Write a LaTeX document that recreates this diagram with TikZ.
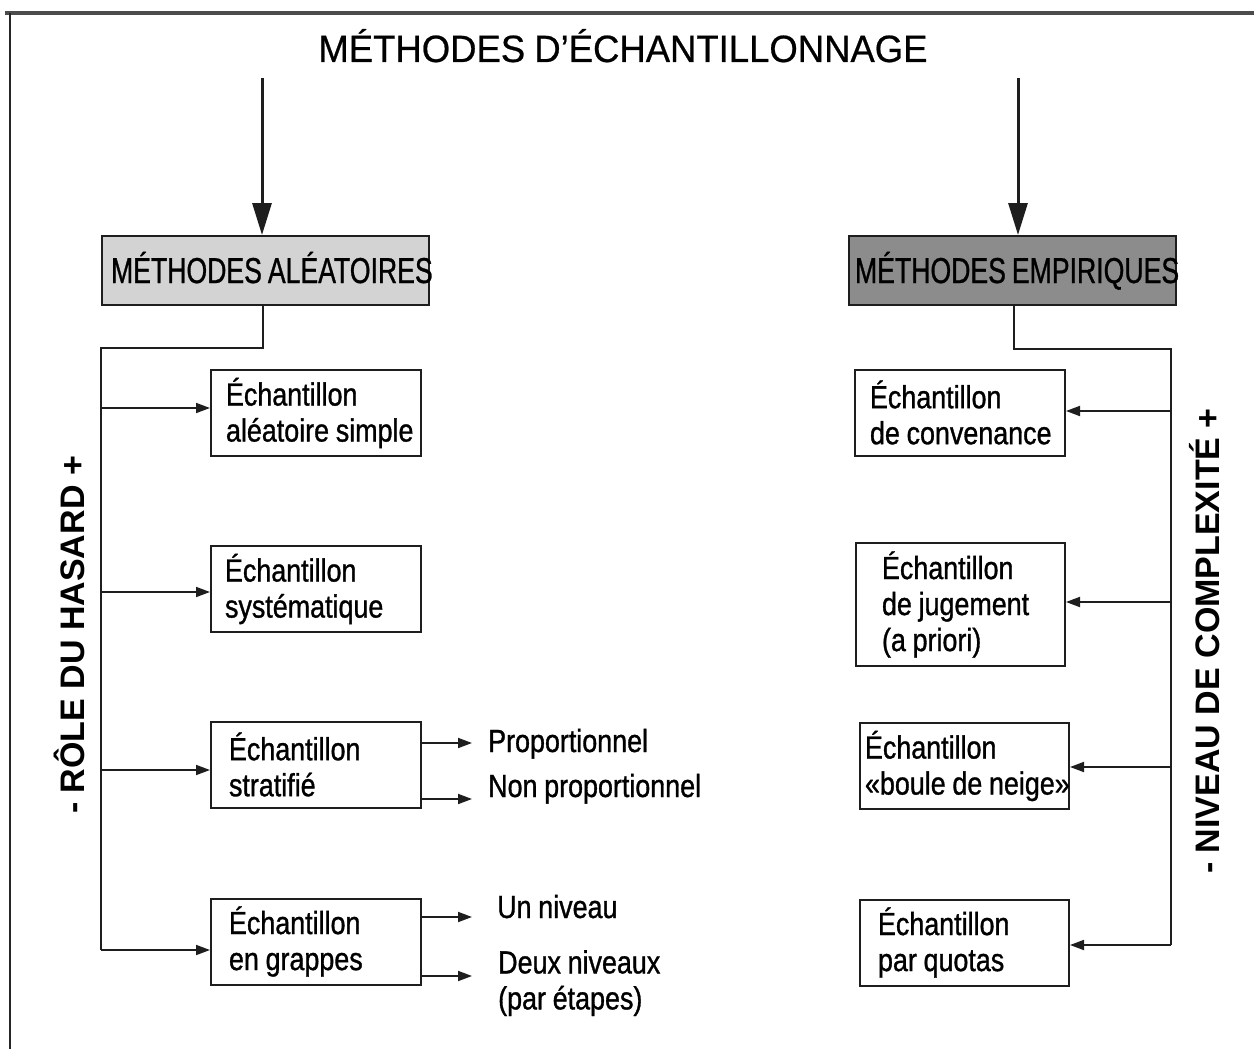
\documentclass[tikz,border=0pt]{standalone}
\usepackage{fontspec}
\setmainfont{Liberation Sans}
\newfontfamily\titlefont[FakeStretch=0.96,FakeBold=0.6,WordSpace=0.9]{Liberation Sans}
\newfontfamily\headfont[FakeStretch=0.74,FakeBold=0.8,WordSpace=0.8]{Liberation Sans}
\newfontfamily\boxfont[FakeStretch=0.84,FakeBold=1.0,WordSpace=0.9]{Liberation Sans}
\newfontfamily\sidefont{Liberation Sans}
\usetikzlibrary{arrows.meta}
\definecolor{lightfill}{HTML}{D3D3D3}
\definecolor{darkfill}{HTML}{8C8C8C}
\definecolor{ink}{HTML}{1E1E1E}
\begin{document}
\begin{tikzpicture}[x=1pt,y=-1pt,
  line/.style={line width=1.8pt, draw=ink},
  arr/.style={line, -{Triangle[length=14pt,width=10pt]}},
  bigarr/.style={line width=3pt, draw=ink, -{Triangle[length=32pt,width=19pt]}},
  head/.style={draw=ink, line width=2pt, minimum width=327pt, minimum height=69pt,
    inner ysep=0pt, text height=27pt, text depth=2pt,
    font=\headfont\fontsize{36}{40}\selectfont},
  sample/.style 2 args={draw=ink, line width=2pt, minimum height=86pt, inner ysep=0pt,
    inner xsep=#1, text width=#2, align=left, font=\boxfont\fontsize{32}{36}\selectfont,
    execute at begin node={\spaceskip=0pt\xspaceskip=0pt\relax}},
  label/.style={inner sep=0pt, align=left, font=\boxfont\fontsize{32}{36}\selectfont},
  side/.style={inner sep=0pt, rotate=90, font=\sidefont\bfseries\fontsize{34}{40}\selectfont}]
\useasboundingbox (0,0) rectangle (1254,1049);

% outer frame (top and left edges)
\draw[line width=3.5pt, draw=black!70] (5,13) -- (1254,13);
\draw[line width=2pt, draw=black!85] (10,13) -- (10,1049);

% title
\node[anchor=base, inner sep=0pt, font=\titlefont\fontsize{38}{44}\selectfont]
  (title) at (623,62) {MÉTHODES D’ÉCHANTILLONNAGE};

% the two families of methods
\node[head, fill=lightfill, inner xsep=9pt] (alea) at (265.5,270.5)
  {\makebox[309pt][l]{MÉTHODES ALÉATOIRES}};
\node[head, fill=darkfill, inner xsep=6pt] (empi) at (1012.5,270.5)
  {\makebox[315pt][l]{MÉTHODES EMPIRIQUES}};

\coordinate (sa) at (262,78);
\coordinate (se) at (1018,78);
\draw[bigarr] (sa) -- (sa |- alea.north);
\draw[bigarr] (se) -- (se |- empi.north);

% random sampling methods
\node[sample={15pt}{180pt}, minimum width=210pt] (simple) at (316,413)
  {Échantillon\\\mbox{aléatoire simple}};
\node[sample={14pt}{182pt}, minimum width=210pt] (syst) at (316,589)
  {Échantillon\\systématique};
\node[sample={18pt}{174pt}, minimum width=210pt] (strat) at (316,764.5)
  {Échantillon\\stratifié};
\node[sample={18pt}{174pt}, minimum width=210pt] (grap) at (316,941.5)
  {Échantillon\\\mbox{en grappes}};

% empirical sampling methods
\node[sample={15pt}{180pt}] (conv) at (960,412.5)
  {Échantillon\\\mbox{de convenance}};
\node[sample={26pt}{157pt}, minimum height=123pt] (jug) at (960.5,604.5)
  {Échantillon\\\mbox{de jugement}\\\mbox{(a priori)}};
\node[sample={5pt}{199pt}] (boule) at (964.5,766)
  {Échantillon\\\mbox{«boule de neige»}};
\node[sample={18pt}{173pt}] (quota) at (964.5,942.5)
  {Échantillon\\\mbox{par quotas}};

% left distribution bus
\coordinate (lj) at (263,348);
\coordinate (l1) at (101,408);
\coordinate (l2) at (101,592);
\coordinate (l3) at (101,770);
\coordinate (l4) at (101,950);
\draw[line] (lj |- alea.south) -- (lj) -| (l4);
\draw[arr] (l1) -- (l1 -| simple.west);
\draw[arr] (l2) -- (l2 -| syst.west);
\draw[arr] (l3) -- (l3 -| strat.west);
\draw[arr] (l4) -- (l4 -| grap.west);

% right distribution bus
\coordinate (rj) at (1014,349);
\coordinate (r1) at (1171,411);
\coordinate (r2) at (1171,602);
\coordinate (r3) at (1171,767);
\coordinate (r4) at (1171,945);
\draw[line] (rj |- empi.south) -- (rj) -| (r4);
\draw[arr] (r1) -- (r1 -| conv.east);
\draw[arr] (r2) -- (r2 -| jug.east);
\draw[arr] (r3) -- (r3 -| boule.east);
\draw[arr] (r4) -- (r4 -| quota.east);

% sub-types of stratified and cluster sampling
\node[label, anchor=base west] (prop) at (488,752) {Proportionnel};
\node[label, anchor=base west] (nonprop) at (488,797) {Non proportionnel};
\node[label, anchor=base west] (un) at (497,918) {Un niveau};
\node[label, anchor=north west] (deux) at (498,950) {Deux niveaux\\(par étapes)};

\coordinate (t1) at (472,743);
\coordinate (t2) at (472,799);
\coordinate (t3) at (472,917);
\coordinate (t4) at (472,976);
\draw[arr] (t1 -| strat.east) -- (t1);
\draw[arr] (t2 -| strat.east) -- (t2);
\draw[arr] (t3 -| grap.east) -- (t3);
\draw[arr] (t4 -| grap.east) -- (t4);

% axis labels
\node[side] (hasard) at (69,635) {- RÔLE DU HASARD +};
\node[side] (complex) at (1205,641) {- NIVEAU DE COMPLEXITÉ +};
\end{tikzpicture}
\end{document}
